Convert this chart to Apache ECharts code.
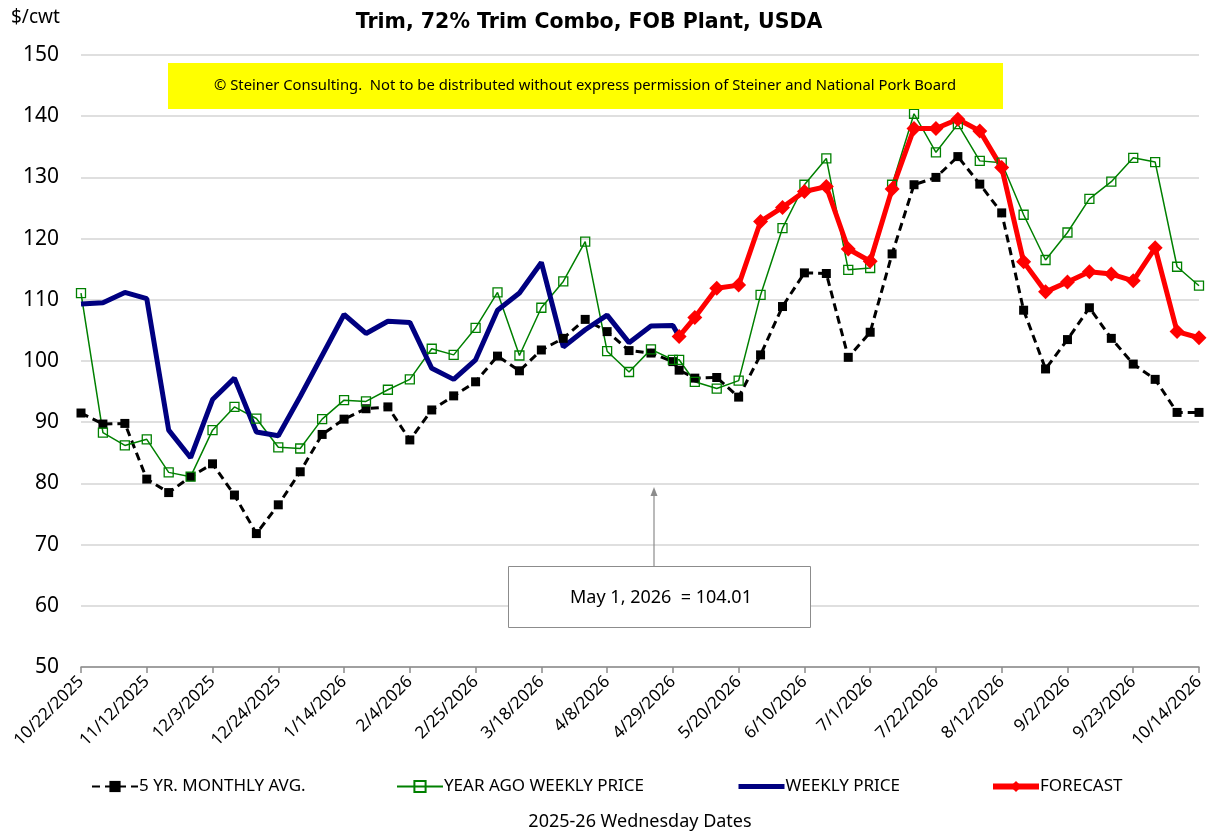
<!DOCTYPE html>
<html>
<head>
<meta charset="utf-8">
<title>Trim, 72% Trim Combo</title>
<script src="https://cdn.jsdelivr.net/npm/echarts@6/dist/echarts.min.js"></script>
<style>
  html, body { margin: 0; padding: 0; background: #fff; }
  #chart { width: 1208px; height: 833px; }
</style>
</head>
<body>
<div id="chart"></div>
<script>
// weekly Wednesday dates, plus the May 1 forecast start
const dates = [
  '10/22/2025', '10/29/2025', '11/5/2025', '11/12/2025', '11/19/2025', '11/26/2025',
  '12/3/2025', '12/10/2025', '12/17/2025', '12/24/2025', '12/31/2025', '1/7/2026',
  '1/14/2026', '1/21/2026', '1/28/2026', '2/4/2026', '2/11/2026', '2/18/2026',
  '2/25/2026', '3/4/2026', '3/11/2026', '3/18/2026', '3/25/2026', '4/1/2026',
  '4/8/2026', '4/15/2026', '4/22/2026', '4/29/2026', '5/1/2026', '5/6/2026',
  '5/13/2026', '5/20/2026', '5/27/2026', '6/3/2026', '6/10/2026', '6/17/2026',
  '6/24/2026', '7/1/2026', '7/8/2026', '7/15/2026', '7/22/2026', '7/29/2026',
  '8/5/2026', '8/12/2026', '8/19/2026', '8/26/2026', '9/2/2026', '9/9/2026',
  '9/16/2026', '9/23/2026', '9/30/2026', '10/7/2026', '10/14/2026'
];

const fiveYrAvg = [
  91.5, 89.7, 89.8, 80.7, 78.5, 81.1, 83.2, 78.1, 71.8, 76.5, 81.9, 88.0,
  90.5, 92.2, 92.5, 87.1, 92.0, 94.3, 96.6, 100.8, 98.4, 101.8, 103.7, 106.8,
  104.8, 101.7, 101.3, 99.9, 98.5, 97.2, 97.3, 94.1, 101.0, 108.9, 114.4, 114.3,
  100.6, 104.7, 117.5, 128.8, 130.0, 133.4, 128.9, 124.2, 108.3, 98.7, 103.5, 108.7,
  103.7, 99.5, 97.0, 91.6, 91.6
];

const yearAgo = [
  111.1, 88.3, 86.2, 87.2, 81.8, 81.1, 88.7, 92.5, 90.6, 85.9, 85.7, 90.5,
  93.6, 93.4, 95.3, 97.0, 102.0, 101.0, 105.4, 111.2, 100.9, 108.7, 113.0, 119.5,
  101.6, 98.2, 101.9, 100.2, 100.2, 96.6, 95.5, 96.8, 110.8, 121.7, 128.8, 133.1,
  114.9, 115.2, 128.8, 140.4, 134.1, 138.7, 132.7, 132.4, 123.9, 116.5, 121.0, 126.5,
  129.3, 133.2, 132.5, 115.4, 112.3
];

const weekly = [
  109.3, 109.5, 111.2, 110.2, 88.7, 84.2, 93.7, 97.2, 88.4, 87.8, 94.2, 100.9,
  107.6, 104.5, 106.5, 106.3, 98.8, 97.0, 100.2, 108.3, 111.1, 116.1, 102.3, 105.1,
  107.5, 103.0, 105.7, 105.8, 104.01
];

const forecast = [
  null, null, null, null, null, null, null, null, null, null, null, null,
  null, null, null, null, null, null, null, null, null, null, null, null,
  null, null, null, null, 104.01, 107.1, 111.9, 112.4, 122.8, 125.1, 127.7, 128.5,
  118.3, 116.3, 128.1, 138.0, 138.0, 139.5, 137.6, 131.6, 116.2, 111.3, 112.9, 114.6,
  114.2, 113.1, 118.5, 104.8, 103.8
];

const FONT = 'Noto Sans';
const DAY = 86400000;
const start = Date.UTC(2025, 9, 22);

function dayOf(s) {
  const p = s.split('/').map(Number);
  return Math.round((Date.UTC(p[2], p[0] - 1, p[1]) - start) / DAY);
}
function dateLabel(v) {
  const d = new Date(start + v * DAY);
  return (d.getUTCMonth() + 1) + '/' + d.getUTCDate() + '/' + d.getUTCFullYear();
}
function pairs(vals) {
  const out = [];
  for (let i = 0; i < vals.length; i++) {
    out.push([dayOf(dates[i]), vals[i] == null ? null : vals[i]]);
  }
  return out;
}

const chart = echarts.init(document.getElementById('chart'));

function legendAt(left, name, extra) {
  return Object.assign({
    left: left,
    top: 773,
    itemWidth: 46,
    itemHeight: 14,
    data: [name],
    textStyle: { fontFamily: FONT, fontSize: 17, color: '#000', padding: [0, 0, 0, -4] }
  }, extra || {});
}

chart.setOption({
  animation: false,
  title: {
    text: 'Trim, 72% Trim Combo, FOB Plant, USDA',
    left: 584,
    top: 7,
    textAlign: 'center',
    textStyle: { fontFamily: 'DejaVu Sans', fontSize: 20.5, fontWeight: 'bold', color: '#000' }
  },
  grid: { left: 81, right: 9, top: 55, bottom: 166, outerBoundsMode: 'none', containLabel: false },
  legend: [
    legendAt(86, '5 YR. MONTHLY AVG.'),
    legendAt(391, 'YEAR AGO WEEKLY PRICE'),
    legendAt(731, 'WEEKLY PRICE', { itemStyle: { opacity: 0 }, lineStyle: { width: 5 } }),
    legendAt(985, 'FORECAST', { lineStyle: { width: 6 } })
  ],
  xAxis: {
    type: 'value',
    min: 0,
    max: 357,
    interval: 21,
    name: '2025-26 Wednesday Dates',
    nameLocation: 'middle',
    nameGap: 146,
    nameTextStyle: { fontFamily: FONT, fontSize: 18, color: '#000' },
    axisLine: { show: true, onZero: false, lineStyle: { color: '#8c8c8c', width: 1.5 } },
    axisTick: { show: true, length: 6, lineStyle: { color: '#8c8c8c', width: 1.5 } },
    splitLine: { show: false },
    axisLabel: {
      rotate: 45,
      margin: 12,
      fontFamily: FONT,
      fontSize: 17,
      color: '#000',
      showMinLabel: true,
      showMaxLabel: true,
      formatter: dateLabel
    }
  },
  yAxis: {
    type: 'value',
    min: 50,
    max: 150,
    interval: 10,
    axisLine: { show: false },
    axisTick: { show: false },
    axisLabel: { fontFamily: FONT, fontSize: 21, color: '#000', margin: 22 },
    splitLine: { lineStyle: { color: '#d4d4d4', width: 1.5 } }
  },
  graphic: [
    {
      type: 'text', left: 11, top: 8,
      style: { text: '$/cwt', fontFamily: FONT, fontSize: 19, fill: '#000' }
    },
    {
      type: 'rect', shape: { x: 168, y: 63, width: 835, height: 46 },
      style: { fill: '#ffff00' }, z: 10
    },
    {
      type: 'text', x: 585, y: 86, z: 11,
      style: {
        text: '\u00a9 Steiner Consulting.  Not to be distributed without express permission of Steiner and National Pork Board',
        fontFamily: FONT, fontSize: 14.8, fill: '#000', align: 'center', verticalAlign: 'middle'
      }
    },
    {
      type: 'line', z: 10,
      shape: { x1: 654, y1: 566, x2: 654, y2: 494 },
      style: { stroke: '#8c8c8c', lineWidth: 1.2 }
    },
    {
      type: 'polygon', z: 10,
      shape: { points: [[654, 487], [650.5, 496], [657.5, 496]] },
      style: { fill: '#8c8c8c' }
    },
    {
      type: 'rect', z: 10,
      shape: { x: 508.5, y: 566.5, width: 302, height: 61 },
      style: { fill: '#fff', stroke: '#8c8c8c', lineWidth: 1 }
    },
    {
      type: 'text', x: 661, y: 598, z: 11,
      style: {
        text: 'May 1, 2026  = 104.01',
        fontFamily: FONT, fontSize: 18, fill: '#000', align: 'center', verticalAlign: 'middle'
      }
    }
  ],
  series: [
    {
      name: '5 YR. MONTHLY AVG.',
      type: 'line',
      data: pairs(fiveYrAvg),
      symbol: 'rect',
      symbolSize: 9,
      itemStyle: { color: '#000' },
      lineStyle: { color: '#000', width: 3, type: [8, 5] }
    },
    {
      name: 'YEAR AGO WEEKLY PRICE',
      type: 'line',
      data: pairs(yearAgo),
      symbol: 'rect',
      symbolSize: 9,
      itemStyle: { color: 'rgba(255,255,255,0)', borderColor: '#008000', borderWidth: 1.3 },
      lineStyle: { color: '#008000', width: 1.5 }
    },
    {
      name: 'WEEKLY PRICE',
      type: 'line',
      data: pairs(weekly),
      symbol: 'none',
      itemStyle: { color: '#000080' },
      lineStyle: { color: '#000080', width: 5 }
    },
    {
      name: 'FORECAST',
      type: 'line',
      data: pairs(forecast),
      symbol: 'diamond',
      symbolSize: 15,
      itemStyle: { color: '#ff0000' },
      lineStyle: { color: '#ff0000', width: 5 }
    }
  ]
});
</script>
</body>
</html>
